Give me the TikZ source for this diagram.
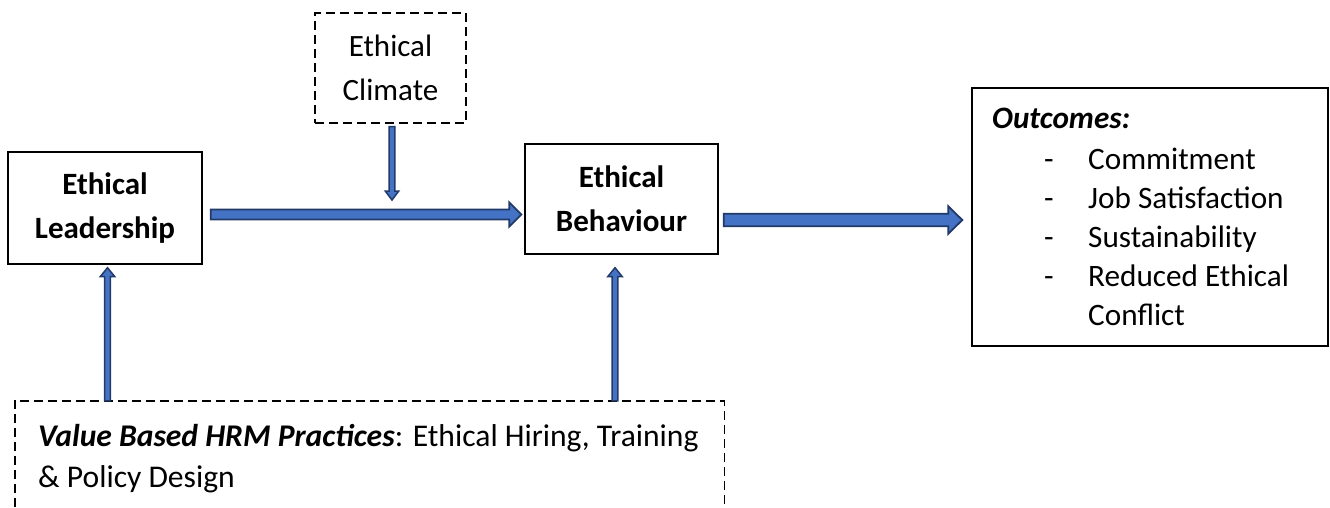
\documentclass[tikz,border=0pt]{standalone}
\usepackage{fontspec}
\setmainfont{Carlito}
\usetikzlibrary{calc}

\definecolor{arrowfill}{RGB}{68,114,196}
\definecolor{arrowline}{RGB}{34,58,104}

% Block arrow from #2 to #3: shaft half-width #4, head half-width #5, head length #6
\newcommand\blockarr[6][1.8pt]{%
  \coordinate (ba-h) at ($(#3)!#6!(#2)$);
  \filldraw[fill=arrowfill, draw=arrowline, line width=#1, line join=miter]
    ($(#2)!#4!90:(#3)$) -- ($(ba-h)!#4!90:(#3)$) -- ($(ba-h)!#5!90:(#3)$) -- (#3)
    -- ($(ba-h)!#5!-90:(#3)$) -- ($(ba-h)!#4!-90:(#3)$) -- ($(#2)!#4!-90:(#3)$) -- cycle;}

\tikzset{
  box/.style={draw=black, line width=1.4pt, inner sep=0pt, align=center},
  dbox/.style={box, dash pattern=on 9pt off 5pt},
  txt/.style={inner sep=0pt, align=left},
}

\begin{document}
\begin{tikzpicture}[x=1pt, y=-1pt]
\useasboundingbox (0,0) rectangle (1330,507);

% main boxes
\node[box, minimum width=194pt, minimum height=112pt,
      font=\fontsize{31}{44}\selectfont\bfseries] (lead) at (105,208) {Ethical\\Leadership};
\node[box, minimum width=193pt, minimum height=110pt,
      font=\fontsize{31}{44}\selectfont\bfseries] (beh) at (621.5,199) {Ethical\\Behaviour};
\node[dbox, minimum width=151pt, minimum height=110pt,
      font=\fontsize{31}{44}\selectfont] (clim) at (390.5,68) {Ethical\\Climate};
\node[box, minimum width=356pt, minimum height=258pt] (out) at (1150,217) {};

% outcomes list (anchored at the baseline of its last line)
\node[txt, anchor=base west, font=\fontsize{31.2}{39}\selectfont] (outtxt) at (992,325)
  {\textbf{\textit{Outcomes:}}\\[2pt]
   \hspace*{52pt}\makebox[44pt][l]{-}Commitment\\
   \hspace*{52pt}\makebox[44pt][l]{-}Job Satisfaction\\
   \hspace*{52pt}\makebox[44pt][l]{-}Sustainability\\
   \hspace*{52pt}\makebox[44pt][l]{-}Reduced Ethical\\
   \hspace*{96pt}Conflict};

% HRM practices box (open at the bottom edge)
\node[minimum width=709pt, minimum height=106pt, inner sep=0pt] (hrm) at (369.5,454) {};
\draw[line width=1.4pt, dash pattern=on 9pt off 5pt]
  (hrm.south west) -- (hrm.north west) -- (hrm.north east) -- (hrm.south east);
\node[txt, anchor=base west, font=\fontsize{31.6}{41}\selectfont] (hrmtxt) at (38,487)
  {\textbf{\textit{Value Based HRM Practices}}: Ethical Hiring, Training\\
   \& Policy Design};

% connector end points
\coordinate (a1s) at ($(lead.east)+(8,6.5)$);
\coordinate (a1e) at ($(a1s -| beh.west)+(-3,0)$);
\coordinate (a2s) at ($(beh.east)+(5,21)$);
\coordinate (a2e) at ($(a2s -| out.west)+(-9,0)$);
\coordinate (a3s) at ($(clim.south)+(1.5,3)$);
\coordinate (a3e) at (a3s |- 0,200);
\coordinate (a4e) at ($(lead.south)+(2.5,3)$);
\coordinate (a4s) at (hrm.north west -| a4e);
\coordinate (a5s) at (hrm.north -| 615,0);
\coordinate (a5e) at ($(a5s |- beh.south)+(0,13)$);

% block arrows
\blockarr{a1s}{a1e}{5pt}{12pt}{12pt}
\blockarr{a2s}{a2e}{6.2pt}{13.7pt}{14pt}
\blockarr[1.5pt]{a3s}{a3e}{2.8pt}{6.8pt}{9pt}
\blockarr[1.5pt]{a4s}{a4e}{2.8pt}{7.3pt}{9pt}
\blockarr[1.5pt]{a5s}{a5e}{2.8pt}{7.3pt}{9pt}
\end{tikzpicture}
\end{document}
